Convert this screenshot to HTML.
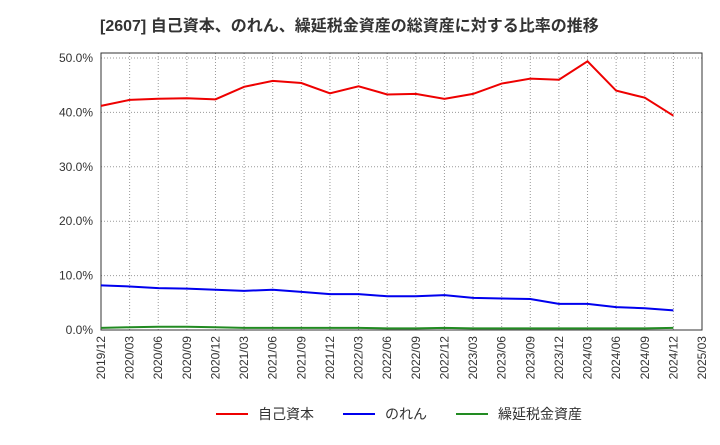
<!DOCTYPE html>
<html><head><meta charset="utf-8"><style>
body{margin:0;background:#fff;font-family:"Liberation Sans","Noto Sans CJK JP",sans-serif;}
</style></head><body>
<svg id="chart" width="720" height="440" xmlns="http://www.w3.org/2000/svg">
<text x="100" y="31" font-size="16" font-weight="bold" fill="#333">[2607]  自己資本、のれん、繰延税金資産の総資産に対する比率の推移</text>
<g id="grid"></g>
<g id="axes"></g>
<g id="series"></g>
<g id="legend" font-size="14" fill="#333">
<line x1="216" y1="414" x2="248" y2="414" stroke="#e00" stroke-width="2"/>
<text x="258" y="419">自己資本</text>
<line x1="343" y1="414" x2="375" y2="414" stroke="#00e" stroke-width="2"/>
<text x="385" y="419">のれん</text>
<line x1="456" y1="414" x2="488" y2="414" stroke="#228b22" stroke-width="2"/>
<text x="498" y="419">繰延税金資産</text>
</g>
</svg>
<script>
const categories=["2019/12","2020/03","2020/06","2020/09","2020/12","2021/03","2021/06","2021/09","2021/12","2022/03","2022/06","2022/09","2022/12","2023/03","2023/06","2023/09","2023/12","2024/03","2024/06","2024/09","2024/12","2025/03"];
const equity=[41.2,42.3,42.5,42.6,42.4,44.7,45.8,45.4,43.5,44.8,43.3,43.4,42.5,43.4,45.3,46.2,46.0,49.4,44.0,42.7,39.4];
const goodwill=[8.2,8.0,7.7,7.6,7.4,7.2,7.4,7.0,6.6,6.6,6.2,6.2,6.4,5.9,5.8,5.7,4.8,4.8,4.2,4.0,3.6];
const dta=[0.4,0.5,0.6,0.6,0.5,0.4,0.4,0.4,0.4,0.4,0.3,0.3,0.4,0.3,0.3,0.3,0.3,0.3,0.3,0.3,0.4];
const yTicks=[0,10,20,30,40,50];
const yTickLabels=["0.0%","10.0%","20.0%","30.0%","40.0%","50.0%"];
const NS="http://www.w3.org/2000/svg";
const L=101,R=702,T=53,B=330;
const xs=i=>L+i*(R-L)/(categories.length-1);
const ys=v=>B-v*(B-58)/50;
function mk(tag,attrs,parent){const e=document.createElementNS(NS,tag);for(const k in attrs)e.setAttribute(k,attrs[k]);parent.appendChild(e);return e;}
const grid=document.getElementById('grid'),axes=document.getElementById('axes'),series=document.getElementById('series');
categories.forEach((c,i)=>{
 const g=mk('line',{x1:xs(i),x2:xs(i),y1:T,y2:B,stroke:'#999','stroke-dasharray':'1,2','stroke-width':1},grid);
 
 
 const t=mk('text',{x:0,y:0,'font-size':12,fill:'#333','text-anchor':'end',transform:`translate(${xs(i)+4},${B+6}) rotate(-90)`},axes);
 t.textContent=c;
 
 
});
yTicks.forEach((v,i)=>{
 const g=mk('line',{x1:L,x2:R,y1:ys(v),y2:ys(v),stroke:'#999','stroke-dasharray':'1,2','stroke-width':1},grid);
 
 
 const t=mk('text',{x:L-8,y:ys(v)+4,'font-size':12,fill:'#333','text-anchor':'end'},axes);
 t.textContent=yTickLabels[i];
 
 
});
const fr=mk('rect',{x:L,y:T,width:R-L,height:B-T,fill:'none',stroke:'#333','stroke-width':1},axes);


function line(data,color,name){
 const p=mk('polyline',{points:data.map((v,i)=>xs(i)+','+ys(v)).join(' '),fill:'none',stroke:color,'stroke-width':2},series);
 
 
}
line(equity,'#e00','equity-line');
line(goodwill,'#00e','goodwill-line');
line(dta,'#228b22','dta-line');
</script>
</body></html>
